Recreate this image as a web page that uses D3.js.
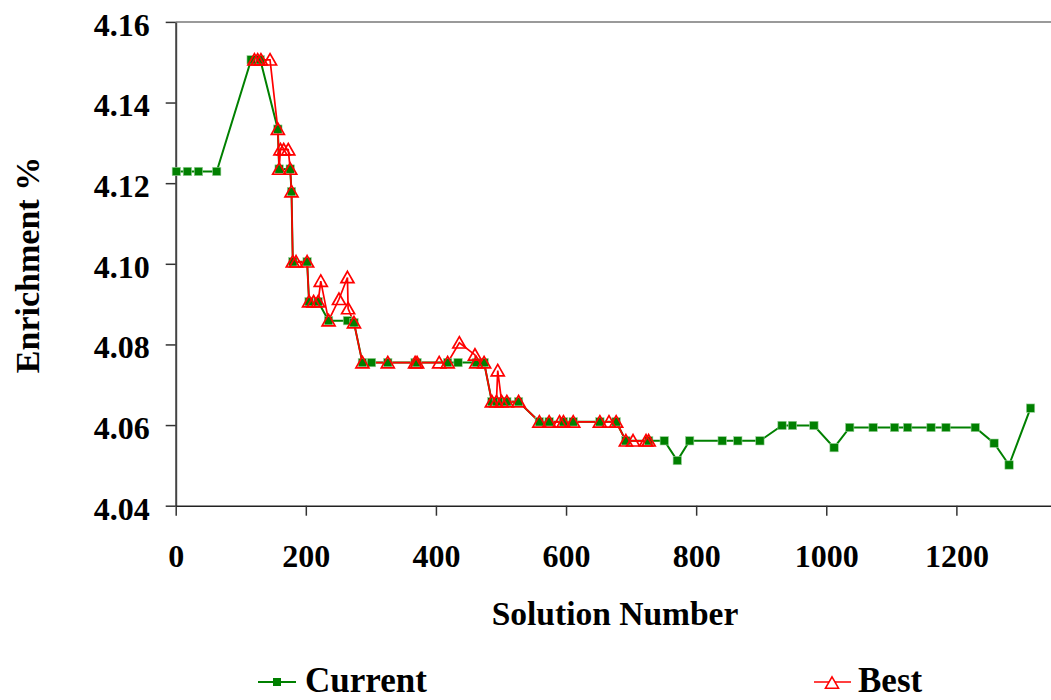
<!DOCTYPE html>
<html>
<head>
<meta charset="utf-8">
<script src="https://cdn.jsdelivr.net/npm/d3@7"></script>
<style>
  body { margin: 0; background: #fff; }
  svg { display: block; }
  text { font-family: "Liberation Serif", "Times New Roman", serif; font-weight: bold; fill: #000; }
</style>
</head>
<body>
<svg id="chart" width="1051" height="700"></svg>
<script>
const currentSolution = [1, 18, 35, 63, 116, 130, 157, 159, 176, 178, 180, 202, 205, 219, 235, 264, 274,
  287, 301, 326, 368, 371, 418, 434, 462, 474, 486, 493, 501, 509, 527, 559, 574, 596, 611, 652, 677,
  692, 727, 751, 771, 790, 840, 864, 898, 932, 948, 981, 1012, 1036, 1072, 1105, 1125, 1161, 1184,
  1229, 1258, 1281, 1314];
const currentEnrichment = [4.1229, 4.1229, 4.1229, 4.1229, 4.1506, 4.1506, 4.1334, 4.1235, 4.1235,
  4.1179, 4.1005, 4.1005, 4.0906, 4.0906, 4.0859, 4.0859, 4.0854,
  4.0755, 4.0755, 4.0755, 4.0755, 4.0755, 4.0755, 4.0755, 4.0755, 4.0755,
  4.0658, 4.0658, 4.0658, 4.0658, 4.0658, 4.0608, 4.0608, 4.0608, 4.0608, 4.0608, 4.0608,
  4.0561, 4.0561, 4.0561, 4.0512, 4.0561, 4.0561, 4.0561, 4.0561, 4.0599, 4.0599, 4.0599, 4.0544,
  4.0594, 4.0594, 4.0594, 4.0594, 4.0594, 4.0594, 4.0594, 4.0555, 4.0501, 4.0642];

const bestSolution = [121, 126, 131, 145, 157, 159, 161, 166, 173, 176, 178, 180, 185, 202, 205, 212,
  219, 223, 235, 251, 264, 265, 274, 287, 326, 368, 371, 405, 418, 436, 460, 462, 474, 486, 493, 495,
  501, 509, 527, 559, 574, 590, 596, 611, 652, 666, 677, 692, 703, 723, 727];
const bestEnrichment = [4.1506, 4.1506, 4.1506, 4.1506, 4.1334, 4.1235, 4.1283, 4.1283, 4.1283,
  4.1235, 4.1179, 4.1005, 4.1005, 4.1005, 4.0906, 4.0906, 4.0906, 4.0957, 4.0859, 4.0912, 4.0966,
  4.0889, 4.0854, 4.0755, 4.0755, 4.0755, 4.0755, 4.0755, 4.0755, 4.0804, 4.0774, 4.0755, 4.0755,
  4.0658, 4.0658, 4.0735, 4.0658, 4.0658, 4.0658, 4.0608, 4.0608, 4.0608, 4.0608, 4.0608, 4.0608,
  4.0608, 4.0608, 4.0561, 4.0561, 4.0561, 4.0561];

// 1400 sits past the right edge of the picture, so its label is left out
const xTicks = [0, 200, 400, 600, 800, 1000, 1200];
const yTicks = [4.04, 4.06, 4.08, 4.10, 4.12, 4.14, 4.16];

const GREEN = "#008000";
const RED = "#ff0000";

const svg = d3.select("#chart");

const x = d3.scaleLinear().domain([0, 1400]).range([175.7, 1086.5]);
const y = d3.scaleLinear().domain([4.04, 4.16]).range([505.7, 21.9]);

// plot area top border
svg.append("line")
  .attr("x1", x(0)).attr("x2", 1051)
  .attr("y1", y(4.16)).attr("y2", y(4.16))
  .attr("stroke", "#9a9a9a").attr("stroke-width", 2);

// y axis
const yAxis = svg.append("g")
  .attr("transform", `translate(${x(0)},0)`)
  .call(d3.axisLeft(y).tickValues(yTicks).tickSize(10).tickSizeOuter(0)
    .tickPadding(16).tickFormat(d3.format(".2f")));
yAxis.select(".domain").attr("stroke", "#444").attr("stroke-width", 2);
yAxis.selectAll(".tick line").attr("stroke", "#333").attr("stroke-width", 1.5);
yAxis.selectAll(".tick text")
  .attr("dy", "0.42em")
  .style("font-size", "32px")
  .style("font-family", "'Liberation Serif', 'Times New Roman', serif")
  .style("font-weight", "bold")
  .attr("fill", "#000");

// x axis, line runs on past the picture edge
const xAxis = svg.append("g")
  .attr("transform", `translate(0,${y(4.04)})`)
  .call(d3.axisBottom(x).tickValues(xTicks).tickSize(10).tickSizeOuter(0)
    .tickPadding(28.6).tickFormat(d3.format("d")));
xAxis.select(".domain").attr("stroke", "#222").attr("stroke-width", 1.5);
xAxis.selectAll(".tick line").attr("stroke", "#333").attr("stroke-width", 1.5);
xAxis.selectAll(".tick text")
  .style("font-size", "32px")
  .style("font-family", "'Liberation Serif', 'Times New Roman', serif")
  .style("font-weight", "bold")
  .attr("fill", "#000");

// axis titles
svg.append("text")
  .attr("x", 615).attr("y", 625)
  .attr("text-anchor", "middle")
  .style("font-size", "33.5px")
  .text("Solution Number");

svg.append("text")
  .attr("transform", "translate(38.5,265) rotate(-90)")
  .attr("text-anchor", "middle")
  .style("font-size", "34px")
  .text("Enrichment %");

const current = currentSolution.map((s, i) => [s, currentEnrichment[i]]);
const best = bestSolution.map((s, i) => [s, bestEnrichment[i]]);

const line = d3.line().x((d) => x(d[0])).y((d) => y(d[1]));
const triangle = "M0,-6.2L6.5,5.2L-6.5,5.2Z";

svg.append("path").datum(current)
  .attr("d", line).attr("fill", "none")
  .attr("stroke", GREEN).attr("stroke-width", 2);

svg.append("path").datum(best)
  .attr("d", line).attr("fill", "none")
  .attr("stroke", RED).attr("stroke-width", 1.7);

svg.append("g").selectAll("rect").data(current).join("rect")
  .attr("x", (d) => x(d[0]) - 4.2).attr("y", (d) => y(d[1]) - 4.2)
  .attr("width", 8.4).attr("height", 8.4)
  .attr("fill", GREEN).attr("stroke", "#9fd49f").attr("stroke-width", 0.6);

svg.append("g").selectAll("path").data(best).join("path")
  .attr("transform", (d) => `translate(${x(d[0])},${y(d[1])})`)
  .attr("d", triangle)
  .attr("fill", "none").attr("stroke", RED).attr("stroke-width", 1.7);

// legend
const legend = svg.append("g");
legend.append("line").attr("x1", 258).attr("x2", 296).attr("y1", 682).attr("y2", 682)
  .attr("stroke", GREEN).attr("stroke-width", 2);
legend.append("rect").attr("x", 273).attr("y", 678).attr("width", 8).attr("height", 8)
  .attr("fill", GREEN);
legend.append("text").attr("x", 305).attr("y", 692).style("font-size", "35px").text("Current");

legend.append("line").attr("x1", 814).attr("x2", 851).attr("y1", 682).attr("y2", 682)
  .attr("stroke", RED).attr("stroke-width", 1.6);
legend.append("path").attr("transform", "translate(832,683)").attr("d", triangle)
  .attr("fill", "#fff").attr("stroke", RED).attr("stroke-width", 1.6);
legend.append("text").attr("x", 858).attr("y", 692).style("font-size", "35px").text("Best");
</script>
</body>
</html>
